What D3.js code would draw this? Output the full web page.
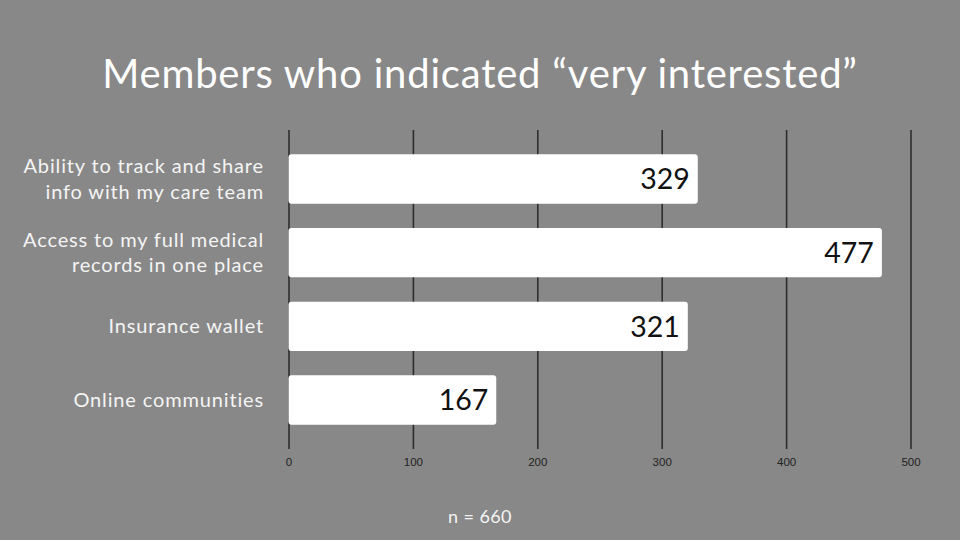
<!DOCTYPE html>
<html>
<head>
<meta charset="utf-8">
<script src="https://cdn.jsdelivr.net/npm/d3@7"></script>
<style>
  html, body { margin: 0; padding: 0; background: #888888; }
  svg { display: block; }
</style>
</head>
<body>
<svg id="chart" width="960" height="540"></svg>
<script>
// chart data
const categories = [
    ["Ability to track and share", "info with my care team"],
    ["Access to my full medical", "records in one place"],
    ["Insurance wallet"],
    ["Online communities"]
];
const values = [329, 477, 321, 167];
const tickValues = [0, 100, 200, 300, 400, 500];
const titleText = "Members who indicated \u201cvery interested\u201d";
const noteText = "n = 660";

const svg = d3.select("#chart");
const W = 960, H = 540;
const font = "Lato, 'Noto Sans', sans-serif";

svg.append("rect").attr("width", W).attr("height", H).attr("fill", "#888888");

const x = d3.scaleLinear().domain([0, 500]).range([288.5, 910.5]);
const y = d3.scaleBand().domain(d3.range(values.length)).range([130, 449]).padding(0.33);

// grid / axis
const axis = d3.axisBottom(x)
    .tickValues(tickValues)
    .tickSize(-(449 - 130))
    .tickPadding(7);

const axisG = svg.append("g")
    .attr("transform", "translate(0,449)")
    .call(axis);
axisG.select(".domain").remove();
axisG.selectAll(".tick line").attr("stroke", "#2e2e2e").attr("stroke-width", 1.6);
axisG.selectAll(".tick text")
    .attr("fill", "#222")
    .attr("font-family", "Arial, 'Liberation Sans', sans-serif")
    .attr("font-size", 11.5)
    .attr("dy", "0.9em");

// bars
const bars = svg.append("g");
bars.selectAll("rect").data(values).join("rect")
    .attr("x", x(0))
    .attr("y", (d, i) => y(i))
    .attr("width", d => x(d) - x(0))
    .attr("height", y.bandwidth())
    .attr("rx", 3)
    .attr("fill", "#ffffff");

bars.selectAll("text").data(values).join("text")
    .attr("x", d => x(d) - 8)
    .attr("y", (d, i) => y(i) + y.bandwidth() / 2)
    .attr("dy", "0.36em")
    .attr("text-anchor", "end")
    .attr("font-family", font)
    .attr("font-size", 28.5)
    .attr("fill", "#111")
    .text(d => d);

// category labels
const labels = svg.append("g");
categories.forEach((lines, i) => {
    const cy = y(i) + y.bandwidth() / 2;
    const lh = 25.5;
    const t = labels.append("text")
        .attr("text-anchor", "end")
        .attr("font-family", font)
        .attr("font-size", 20)
        .attr("letter-spacing", 0.85)
        .attr("fill", "#f4f4f4");
    lines.forEach((s, j) => {
        t.append("tspan")
            .attr("x", 264)
            .attr("y", cy + (j - (lines.length - 1) / 2) * lh)
            .attr("dy", "0.35em")
            .text(s);
    });
});

// title and note
svg.append("text")
    .attr("x", 480).attr("y", 88)
    .attr("text-anchor", "middle")
    .attr("font-family", font)
    .attr("font-size", 40)
    .attr("letter-spacing", 0.8)
    .attr("fill", "#ffffff")
    .text(titleText);

svg.append("text")
    .attr("x", 480).attr("y", 523)
    .attr("text-anchor", "middle")
    .attr("font-family", font)
    .attr("font-size", 18)
    .attr("letter-spacing", 0.4)
    .attr("fill", "#f4f4f4")
    .text(noteText);
</script>
</body>
</html>
